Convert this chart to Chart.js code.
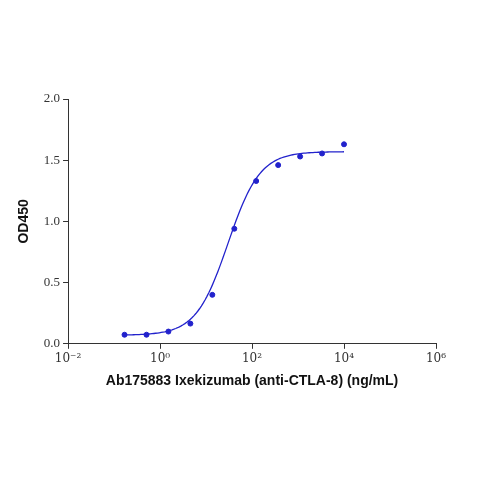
<!DOCTYPE html>
<html lang="en">
<head>
<meta charset="UTF-8">
<title>OD450 curve</title>
<script src="https://cdn.jsdelivr.net/npm/chart.js"></script>
<style>
  body { margin: 0; background: #fff; }
  #wrap { width: 479px; height: 479px; }
</style>
</head>
<body>
<div id="wrap"><canvas id="myChart" width="479" height="479"></canvas></div>
<script>
    // measured points (3-fold dilution series)
    const conc = [0.169, 0.508, 1.52, 4.57, 13.7, 41.2, 123, 370, 1111, 3333, 10000];
    const od = [0.074, 0.074, 0.10, 0.165, 0.40, 0.94, 1.33, 1.46, 1.53, 1.555, 1.63];
    const xTicks = [1e-2, 1, 1e2, 1e4, 1e6];
    const xTickLabels = ['10\u207B\u00B2', '10\u2070', '10\u00B2', '10\u2074', '10\u2076'];
    const yTicks = [0, 0.5, 1.0, 1.5, 2.0];
    // 4PL fit parameters
    const fitBottom = 0.07, fitTop = 1.57, fitEC50 = 30, fitHill = 1.25;

    const fitCurve = [];
    for (let i = 0; i <= 120; i++) {
        const x = Math.pow(10, Math.log10(conc[0]) + i * (Math.log10(conc[conc.length - 1]) - Math.log10(conc[0])) / 120);
        fitCurve.push({ x: x, y: fitBottom + (fitTop - fitBottom) / (1 + Math.pow(fitEC50 / x, fitHill)) });
    }

    const blue = '#2222cc';
    const ctx = document.getElementById('myChart').getContext('2d');
    const myChart = new Chart(ctx, {
        type: 'scatter',
        data: {
            datasets: [{
                data: conc.map((c, i) => ({ x: c, y: od[i] })),
                backgroundColor: blue,
                borderColor: blue,
                pointRadius: 2.5
            }, {
                type: 'line',
                data: fitCurve,
                borderColor: blue,
                borderWidth: 1.3,
                pointRadius: 0,
                fill: false
            }]
        },
        options: {
            responsive: false,
            animation: false,
            layout: { padding: { left: 12, right: 43, top: 99, bottom: 85 } },
            plugins: { legend: { display: false }, tooltip: { enabled: false } },
            scales: {
                x: {
                    type: 'logarithmic',
                    min: 1e-2, max: 1e6,
                    afterBuildTicks: axis => { axis.ticks = xTicks.map(v => ({ value: v })); },
                    ticks: {
                        callback: (v) => xTickLabels[xTicks.indexOf(v)],
                        color: '#333', font: { family: 'DejaVu Serif', size: 12 }, maxRotation: 0
                    },
                    grid: { drawOnChartArea: false, tickLength: 5, color: '#333' },
                    border: { color: '#333', width: 1 },
                    title: { display: true, text: 'Ab175883 Ixekizumab (anti-CTLA-8) (ng/mL)', color: '#111',
                             font: { family: 'Liberation Sans', size: 14, weight: 'bold' }, padding: { top: 4 } }
                },
                y: {
                    min: 0, max: 2,
                    afterBuildTicks: axis => { axis.ticks = yTicks.map(v => ({ value: v })); },
                    ticks: {
                        callback: v => v.toFixed(1),
                        color: '#333', font: { family: 'Liberation Serif', size: 13 }
                    },
                    grid: { drawOnChartArea: false, tickLength: 5, color: '#333' },
                    border: { color: '#333', width: 1 },
                    title: { display: true, text: 'OD450', color: '#111',
                             font: { family: 'Liberation Sans', size: 14, weight: 'bold' }, padding: { bottom: 8 } }
                }
            }
        }
    });
</script>
</body>
</html>
